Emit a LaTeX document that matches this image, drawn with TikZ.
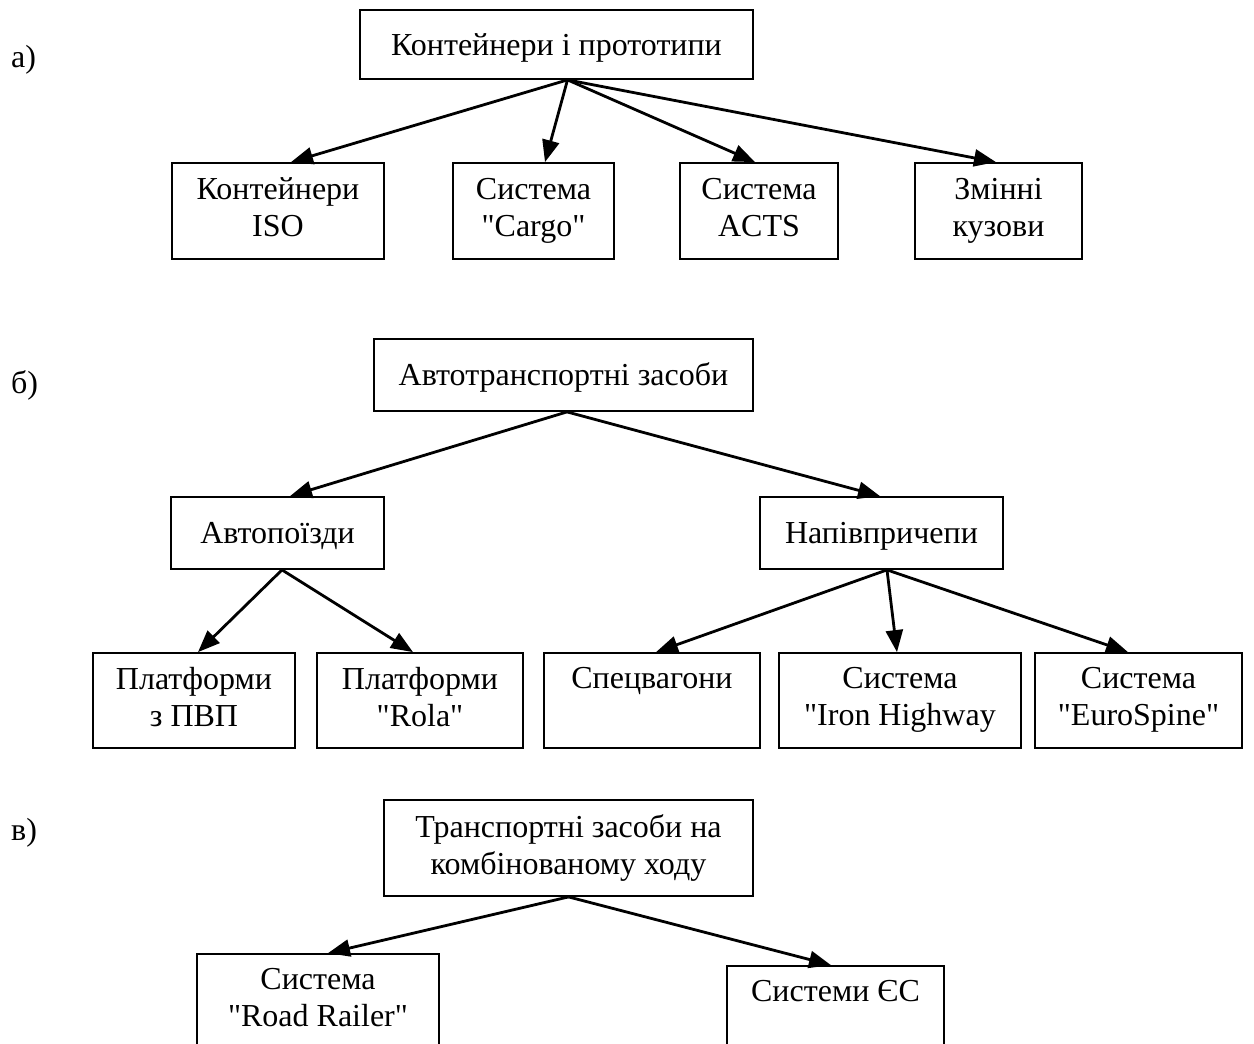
\documentclass[tikz,border=0pt]{standalone}
\usepackage{fontspec}
\setmainfont{Liberation Serif}[Ligatures=TeXOff]
\usetikzlibrary{arrows.meta}
\newcommand\boxstrut{\rule[-7.9pt]{0pt}{37pt}}
\begin{document}
\begin{tikzpicture}[x=1pt,y=-1pt,
  box/.style={draw, line width=1.8pt, inner sep=0pt, align=center,
    font=\fontsize{32}{37}\selectfont,
    execute at begin node=\boxstrut, execute at end node=\boxstrut},
  arr/.style={line width=2.8pt, -{Triangle[length=22pt,width=17pt]}},
  lbl/.style={anchor=base west, inner sep=0pt, font=\fontsize{32}{37}\selectfont}]
\useasboundingbox (0,0) rectangle (1254,1044);
\clip (0,0) rectangle (1254,1044);

% ---- a) ----
\node[lbl] (la) at (11,67) {а)};
\node[box, minimum width=393pt, minimum height=69pt] (a) at (556.5,44.5) {Контейнери і прототипи};
\node[box, minimum width=212pt, minimum height=96pt] (a1) at (278,211) {Контейнери\\ISO};
\node[box, minimum width=161pt, minimum height=96pt] (a2) at (533.5,211) {Система\\"Cargo"};
\node[box, minimum width=158pt, minimum height=96pt] (a3) at (759,211) {Система\\ACTS};
\node[box, minimum width=167pt, minimum height=96pt] (a4) at (998.5,211) {Змінні\\кузови};
\draw[arr] ([xshift=11pt]a.south) -- ([xshift=13pt]a1.north);
\draw[arr] ([xshift=11pt]a.south) -- ([xshift=11.5pt]a2.north);
\draw[arr] ([xshift=11pt]a.south) -- ([xshift=-4pt]a3.north);
\draw[arr] ([xshift=11pt]a.south) -- ([xshift=-2.5pt]a4.north);

% ---- b) ----
\node[lbl] (lb) at (11,393) {б)};
\node[box, minimum width=379pt, minimum height=72pt] (b) at (563.5,375) {Автотранспортні засоби};
\node[box, minimum width=213pt, minimum height=72pt] (b1) at (277.5,533) {Автопоїзди};
\node[box, minimum width=243pt, minimum height=72pt] (b2) at (881.5,533) {Напівпричепи};
\draw[arr] ([xshift=3.5pt]b.south) -- ([xshift=12.5pt]b1.north);
\draw[arr] ([xshift=3.5pt]b.south) -- ([xshift=-1.5pt]b2.north);

\node[box, minimum width=202pt, minimum height=95pt] (c1) at (194,700.5) {Платформи\\з ПВП};
\node[box, minimum width=206pt, minimum height=95pt] (c2) at (420,700.5) {Платформи\\"Rola"};
\node[box, minimum width=216pt, minimum height=95pt] (c3) at (652,700.5) {Спецвагони\\\mbox{}};
\node[box, minimum width=242pt, minimum height=95pt] (c4) at (900,700.5) {Система\\"Iron Highway};
\node[box, minimum width=207pt, minimum height=95pt] (c5) at (1138.5,700.5) {Система\\"EuroSpine"};
\draw[arr] ([xshift=4.5pt]b1.south) -- ([xshift=4pt]c1.north);
\draw[arr] ([xshift=4.5pt]b1.south) -- ([xshift=-7pt]c2.north);
\draw[arr] ([xshift=5.5pt]b2.south) -- ([xshift=4pt]c3.north);
\draw[arr] ([xshift=5.5pt]b2.south) -- ([xshift=-3pt]c4.north);
\draw[arr] ([xshift=5.5pt]b2.south) -- ([xshift=-10.5pt]c5.north);

% ---- c) ----
\node[lbl] (lc) at (11,840) {в)};
\node[box, minimum width=369pt, minimum height=96pt] (d) at (568.5,848) {Транспортні засоби на\\комбінованому ходу};
\node[box, minimum width=242pt, minimum height=95pt] (d1) at (318,1001.5) {Система\\"Road Railer"};
\node[box, minimum width=217pt, minimum height=95pt] (d2) at (835.5,1013.5) {Системи ЄС\\\mbox{}};
\draw[arr] (d.south) -- ([xshift=10pt]d1.north);
\draw[arr] (d.south) -- ([xshift=-4.5pt]d2.north);
\end{tikzpicture}
\end{document}
